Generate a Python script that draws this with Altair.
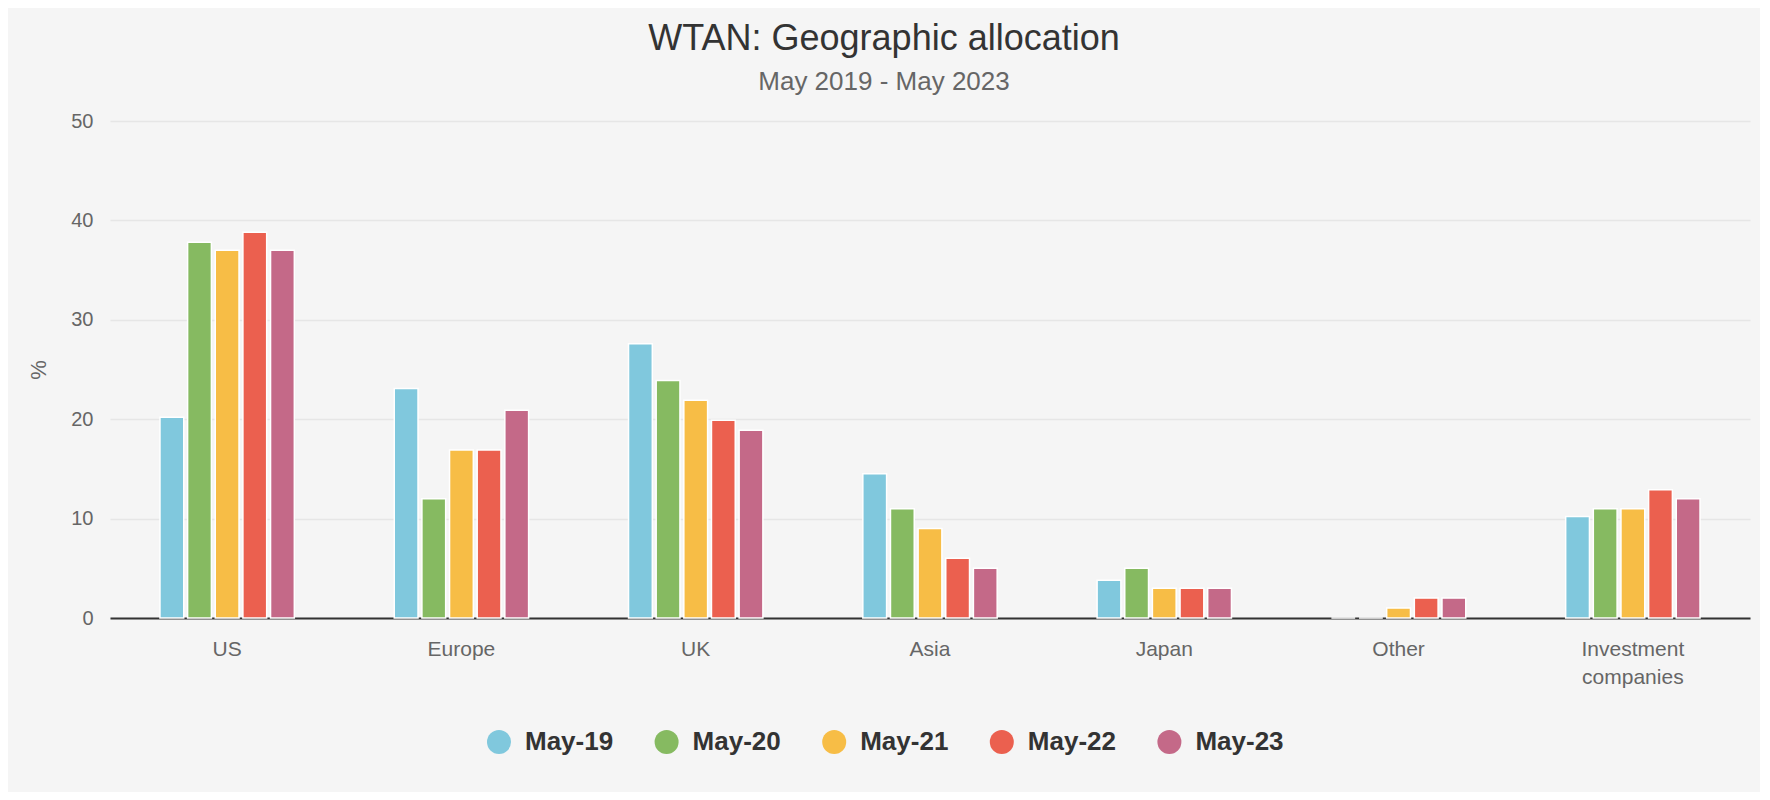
import altair as alt
import pandas as pd

categories = ["US", "Europe", "UK", "Asia", "Japan", "Other", "Investment companies"]
series = ["May-19", "May-20", "May-21", "May-22", "May-23"]
may19 = [20.2, 23.1, 27.6, 14.5, 3.8, 0.0, 10.2]
may20 = [37.8, 12.0, 23.9, 11.0, 5.0, 0.0, 11.0]
may21 = [37.0, 16.9, 21.9, 9.0, 3.0, 1.0, 11.0]
may22 = [38.8, 16.9, 19.9, 6.0, 3.0, 2.0, 12.9]
may23 = [37.0, 20.9, 18.9, 5.0, 3.0, 2.0, 12.0]
colors = ["#80c8dd", "#86ba61", "#f7bd46", "#eb604f", "#c46988"]
y_ticks = [0, 10, 20, 30, 40, 50]

values = [may19, may20, may21, may22, may23]
rows = []
for s, vals in zip(series, values):
    for c, v in zip(categories, vals):
        rows.append({"region": c, "period": s, "pct": v})
df = pd.DataFrame(rows)

FONT = "Liberation Sans"

chart = alt.Chart(df).mark_bar(stroke="white", strokeWidth=1.5).encode(
    x=alt.X("region:N", sort=categories,
            scale=alt.Scale(paddingInner=0.41, paddingOuter=0.205),
            axis=alt.Axis(title=None, labelAngle=0, labelColor="#666666",
                          labelFontSize=21, labelFont=FONT, labelPadding=20,
                          labelLineHeight=28, ticks=False, domainColor="#333333",
                          domainWidth=2, grid=False,
                          labelExpr="split(datum.label, ' ')")),
    xOffset=alt.XOffset("period:N", sort=series,
                        scale=alt.Scale(paddingInner=0.14, paddingOuter=0.07)),
    y=alt.Y("pct:Q", scale=alt.Scale(domain=[0, 50], nice=False),
            axis=alt.Axis(title="%", values=y_ticks, domain=False, ticks=False,
                          gridColor="#e6e6e6", gridWidth=1.5,
                          labelColor="#666666", labelFontSize=20, labelFont=FONT,
                          labelPadding=17, titleColor="#666666", titleFontSize=22,
                          titleFont=FONT, titleFontWeight="normal", titlePadding=20)),
    color=alt.Color("period:N", sort=series,
                    scale=alt.Scale(domain=series, range=colors),
                    legend=alt.Legend(title=None, orient="none", direction="horizontal",
                                      legendX=376, legendY=608, padding=0,
                                      symbolType="circle", symbolSize=576,
                                      symbolStrokeWidth=0, symbolOpacity=1,
                                      labelFontSize=26, labelFontWeight="bold",
                                      labelFont=FONT, labelColor="#333333",
                                      labelOffset=13, columnPadding=39.6)),
).properties(
    width=1640,
    height=497,
    padding={"left": 102, "top": 113, "right": 10, "bottom": 174},
    autosize=alt.AutoSizeParams(type="none"),
    background="#f5f5f5",
    title=alt.Title("WTAN: Geographic allocation", subtitle="May 2019 - May 2023",
                    font=FONT, fontSize=36, fontWeight="normal", color="#333333",
                    subtitleFont=FONT, subtitleFontSize=26, subtitleColor="#666666",
                    anchor="middle", frame="group", dx=-46, offset=15,
                    subtitlePadding=11),
).configure_view(stroke=None)

chart.save("out.html", embed_options={"renderer": "svg", "actions": False})
